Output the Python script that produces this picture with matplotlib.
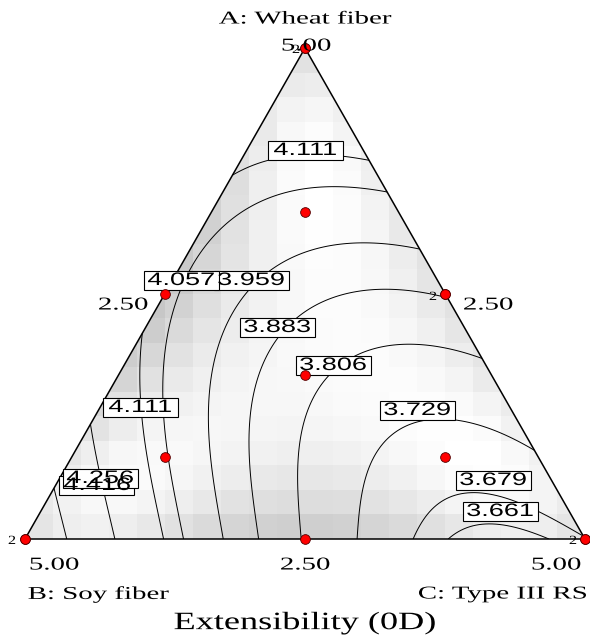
import numpy as np
import matplotlib
matplotlib.use("Agg")
import matplotlib.pyplot as plt
import matplotlib.tri as mtri
from matplotlib.patches import Polygon, Rectangle
from matplotlib.patheffects import AbstractPathEffect
from matplotlib.transforms import Affine2D

# ---- data -------------------------------------------------------------
# fitted mixture model (Scheffe quartic, pseudo-components A, B, C)
model_terms = ["A", "B", "C", "AB", "AC", "BC", "AB(A-B)", "AC(A-C)", "BC(B-C)",
               "AB(A-B)^2", "AC(A-C)^2", "BC(B-C)^2", "A^2BC", "AB^2C", "ABC^2"]
model_coef = [4.2434, 4.5664, 3.6772, -1.2904, -0.2842, -1.2878, 0.1977, 0.3077,
              0.0011, 0.2976, 0.3426, 0.0917, -1.4475, -0.0850, 0.1603]
contour_levels = [3.661, 3.679, 3.729, 3.806, 3.883, 3.959, 4.057, 4.111, 4.256, 4.416]

# design runs (fractions of A: Wheat fiber, B: Soy fiber, C: Type III RS)
runs_A = [1, 1, 0, 0, 0, 0, .5, .5, .5, 0, 2/3, 1/6, 1/6, 1/3]
runs_B = [0, 0, 1, 1, 0, 0, .5, 0, 0, .5, 1/6, 2/3, 1/6, 1/3]
runs_C = [0, 0, 0, 0, 1, 1, 0, .5, .5, .5, 1/6, 1/6, 2/3, 1/3]
replicate_marks = ["2", "2", "2", "2"]

tick_labels = ["5.00", "2.50"]
axis_names = ["A: Wheat fiber", "B: Soy fiber", "C: Type III RS"]
title = "Extensibility (0D)"
label_values = [4.111, 3.959, 4.057, 3.883, 3.806, 3.729, 3.679, 3.661, 4.111, 4.416, 4.256]


def terms(a, b, c):
    return np.array([a, b, c, a*b, a*c, b*c, a*b*(a-b), a*c*(a-c), b*c*(b-c),
                     a*b*(a-b)**2, a*c*(a-c)**2, b*c*(b-c)**2,
                     a*a*b*c, a*b*b*c, a*b*c*c]).T


class StretchX(AbstractPathEffect):
    def __init__(self, sx=1.6, anchor="center"):
        super().__init__()
        self.sx = sx
        self.anchor = anchor

    def draw_path(self, renderer, gc, tpath, affine, rgbFace=None):
        ext = tpath.get_extents(affine)
        x0 = {"center": (ext.x0 + ext.x1) / 2, "left": ext.x0, "right": ext.x1}[self.anchor]
        t = affine + Affine2D().translate(-x0, 0).scale(self.sx, 1).translate(x0, 0)
        renderer.draw_path(gc, tpath, t, rgbFace)


W, H = 590, 637
fig = plt.figure(figsize=(W/100, H/100), dpi=100)
L, R, T, B = 25, 585, 48, 539
ax = fig.add_axes([L/W, (H-B)/H, (R-L)/W, (B-T)/H])
ax.set_xlim(0, 1); ax.set_ylim(0, 1); ax.axis("off")
px = 1/(R-L); py = 1/(B-T)


def pix(x, y):
    return (x-L)*px, (B-y)*py


# ---- background shading: prediction std. error of quadratic model ----
ra, rb, rc = map(np.array, (runs_A, runs_B, runs_C))
def quad(a, b, c):
    return np.array([a, b, c, a*b, a*c, b*c]).T
XtXi = np.linalg.inv(quad(ra, rb, rc).T @ quad(ra, rb, rc))
ng = 20
ue = np.linspace(0, 1, ng+1); ae = np.linspace(0, 1, ng+1)
UU, AA = np.meshgrid((ue[:-1]+ue[1:])/2, (ae[:-1]+ae[1:])/2)
CC = np.clip(UU-AA/2, 0, 1); BB = np.clip(1-AA-CC, 0, 1); CC = 1-AA-BB
Q = quad(AA.ravel(), BB.ravel(), CC.ravel())
se = np.sqrt(np.einsum("ij,jk,ik->i", Q, XtXi, Q)).reshape(AA.shape)
tri_poly = Polygon([[0, 0], [1, 0], [0.5, 1]], closed=True, transform=ax.transData,
                   fc="none", ec="none")
ax.add_patch(tri_poly)
g = (se-se.min())/(se.max()-se.min())
mesh = ax.pcolormesh(ue, ae, 1-0.22*g, cmap="gray", vmin=0, vmax=1, shading="flat")
mesh.set_clip_path(tri_poly)

# ---- contours ----------------------------------------------------------
n = 160
aa, cc = [], []
for i in range(n+1):
    for j in range(n+1-i):
        aa.append(i/n); cc.append(j/n)
aa = np.array(aa); cc = np.array(cc); bb = 1-aa-cc
z = terms(aa, bb, cc) @ np.array(model_coef)
tri = mtri.Triangulation(cc+aa/2, aa)
ax.tricontour(tri, z, levels=contour_levels, colors="k", linewidths=0.7)
ax.plot([0, 1, 0.5, 0], [0, 0, 1, 0], color="k", lw=1.1, clip_on=False)

# ---- contour label boxes ----------------------------------------------
lab_pos = [(305, 150), (251, 280), (181, 280), (277, 327), (333, 365), (417, 410),
           (493, 480), (500, 511), (140, 407), (97, 485), (100, 478)]
for v, (x, y) in zip(label_values, lab_pos):
    cx, cy = pix(x, y)
    ax.add_patch(Rectangle((cx-37.5*px, cy-9.5*py), 75*px, 19*py, fc="white",
                           ec="k", lw=0.8, zorder=5))
    ax.text(cx, cy-0.5*py, f"{v:.3f}", ha="center", va="center", fontsize=13,
            family="Liberation Sans", zorder=6, path_effects=[StretchX(1.5)])

# ---- design points ----------------------------------------------------
dx, dy = rc+ra/2, ra
ax.plot(dx, dy, "o", ms=7, mfc="#ff0000", mec="#500000", mew=0.6, ls="none",
        clip_on=False, zorder=7)

serif = "Liberation Serif"
def ftext(x, y, s, size, ha="center", sx=1.6):
    fig.text(x/W, 1-y/H, s, family=serif, fontsize=size, ha=ha, va="center",
             path_effects=[StretchX(sx, ha)])

ftext(305, 19, axis_names[0], 13)
ftext(306, 46, tick_labels[0], 13)
ftext(123, 305, tick_labels[1], 13)
ftext(488, 305, tick_labels[1], 13)
ftext(54, 565, tick_labels[0], 13)
ftext(305, 565, tick_labels[1], 13)
ftext(556, 565, tick_labels[0], 13)
ftext(28, 594, axis_names[1], 13, ha="left")
ftext(587, 594, axis_names[2], 13, ha="right")
ftext(305, 623, title, 18, sx=1.45)
for s, (x, y) in zip(replicate_marks, [(296, 50), (12, 541), (573, 541), (433, 297)]):
    ftext(x, y, s, 9, sx=1.3)

fig.savefig("out.png", dpi=100)
